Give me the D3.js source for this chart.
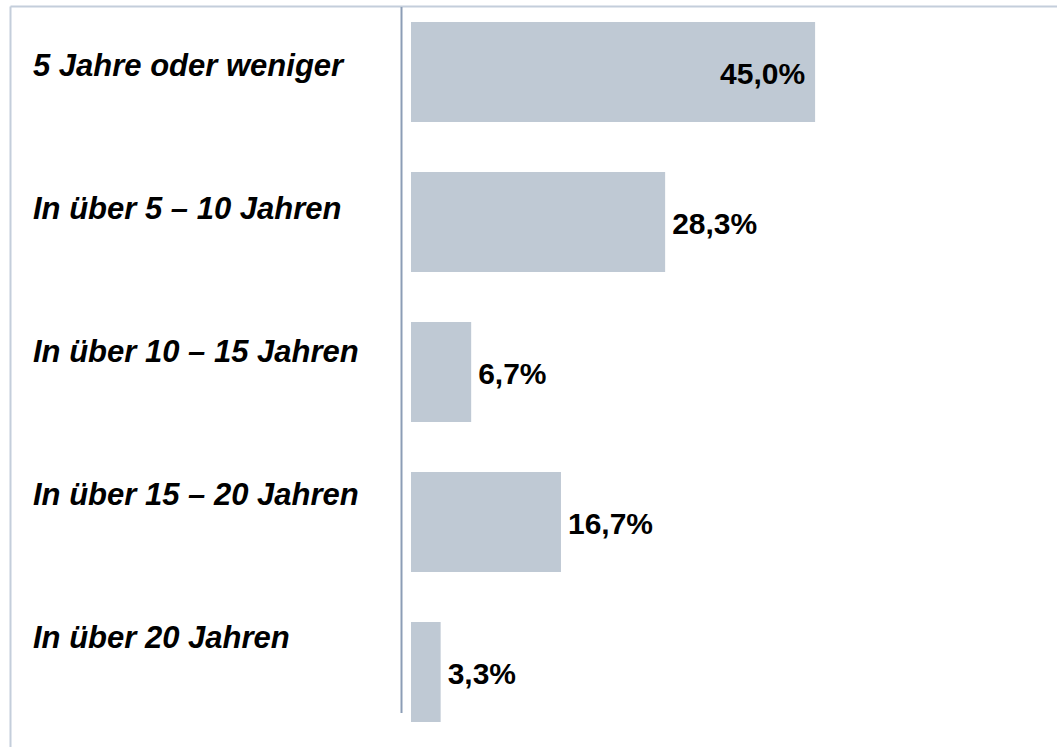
<!DOCTYPE html>
<html>
<head>
<meta charset="utf-8">
<style>
  html, body { margin: 0; padding: 0; background: #fff; }
  svg { display: block; font-family: "Liberation Sans", Arial, sans-serif; }
</style>
<script src="https://cdn.jsdelivr.net/npm/d3@7"></script>
</head>
<body>
<svg id="chart" width="1057" height="747"></svg>
<script>
  const categories = [
    "5 Jahre oder weniger",
    "In über 5 – 10 Jahren",
    "In über 10 – 15 Jahren",
    "In über 15 – 20 Jahren",
    "In über 20 Jahren"
  ];
  const values = [45.0, 28.3, 6.7, 16.7, 3.3];
  const valueLabels = ["45,0%", "28,3%", "6,7%", "16,7%", "3,3%"];

  const svg = d3.select("#chart");

  // frame (only top and left edges are visible in the crop)
  svg.append("line")
    .attr("x1", 10.5).attr("x2", 1057)
    .attr("y1", 6.5).attr("y2", 6.5)
    .attr("stroke", "#c4cedb").attr("stroke-width", 2);
  svg.append("line")
    .attr("x1", 10.5).attr("x2", 10.5)
    .attr("y1", 6.5).attr("y2", 747)
    .attr("stroke", "#c4cedb").attr("stroke-width", 2);

  const x = d3.scaleLinear().domain([0, 50]).range([411, 860]);
  const y = d3.scaleBand().domain(categories).range([-28, 772]).padding(1 / 3);
  const labelY = d3.scalePoint().domain(categories).range([76, 648]);

  // category axis line
  svg.append("line")
    .attr("x1", 401.5).attr("x2", 401.5)
    .attr("y1", 7).attr("y2", 713)
    .attr("stroke", "#8c9db6").attr("stroke-width", 2);

  const rows = categories.map((c, i) => ({ cat: c, value: values[i], label: valueLabels[i] }));

  svg.append("g").selectAll("rect")
    .data(rows)
    .join("rect")
    .attr("x", x(0))
    .attr("y", (d) => y(d.cat))
    .attr("width", (d) => x(d.value) - x(0))
    .attr("height", y.bandwidth())
    .attr("fill", "#bfc9d4");

  svg.append("g").selectAll("text")
    .data(rows)
    .join("text")
    .attr("x", (d) => d.value > 40 ? x(d.value) - 10 : x(d.value) + 7)
    .attr("y", (d) => y(d.cat) + y.bandwidth() / 2 + 12)
    .attr("text-anchor", (d) => d.value > 40 ? "end" : "start")
    .attr("font-size", 30)
    .attr("font-weight", "bold")
    .attr("fill", "#000")
    .text((d) => d.label);

  svg.append("g").selectAll("text")
    .data(categories)
    .join("text")
    .attr("x", 33)
    .attr("y", (d) => labelY(d))
    .attr("font-size", 31)
    .attr("font-weight", "bold")
    .attr("font-style", "italic")
    .attr("fill", "#000")
    .text((d) => d);
</script>
</body>
</html>
